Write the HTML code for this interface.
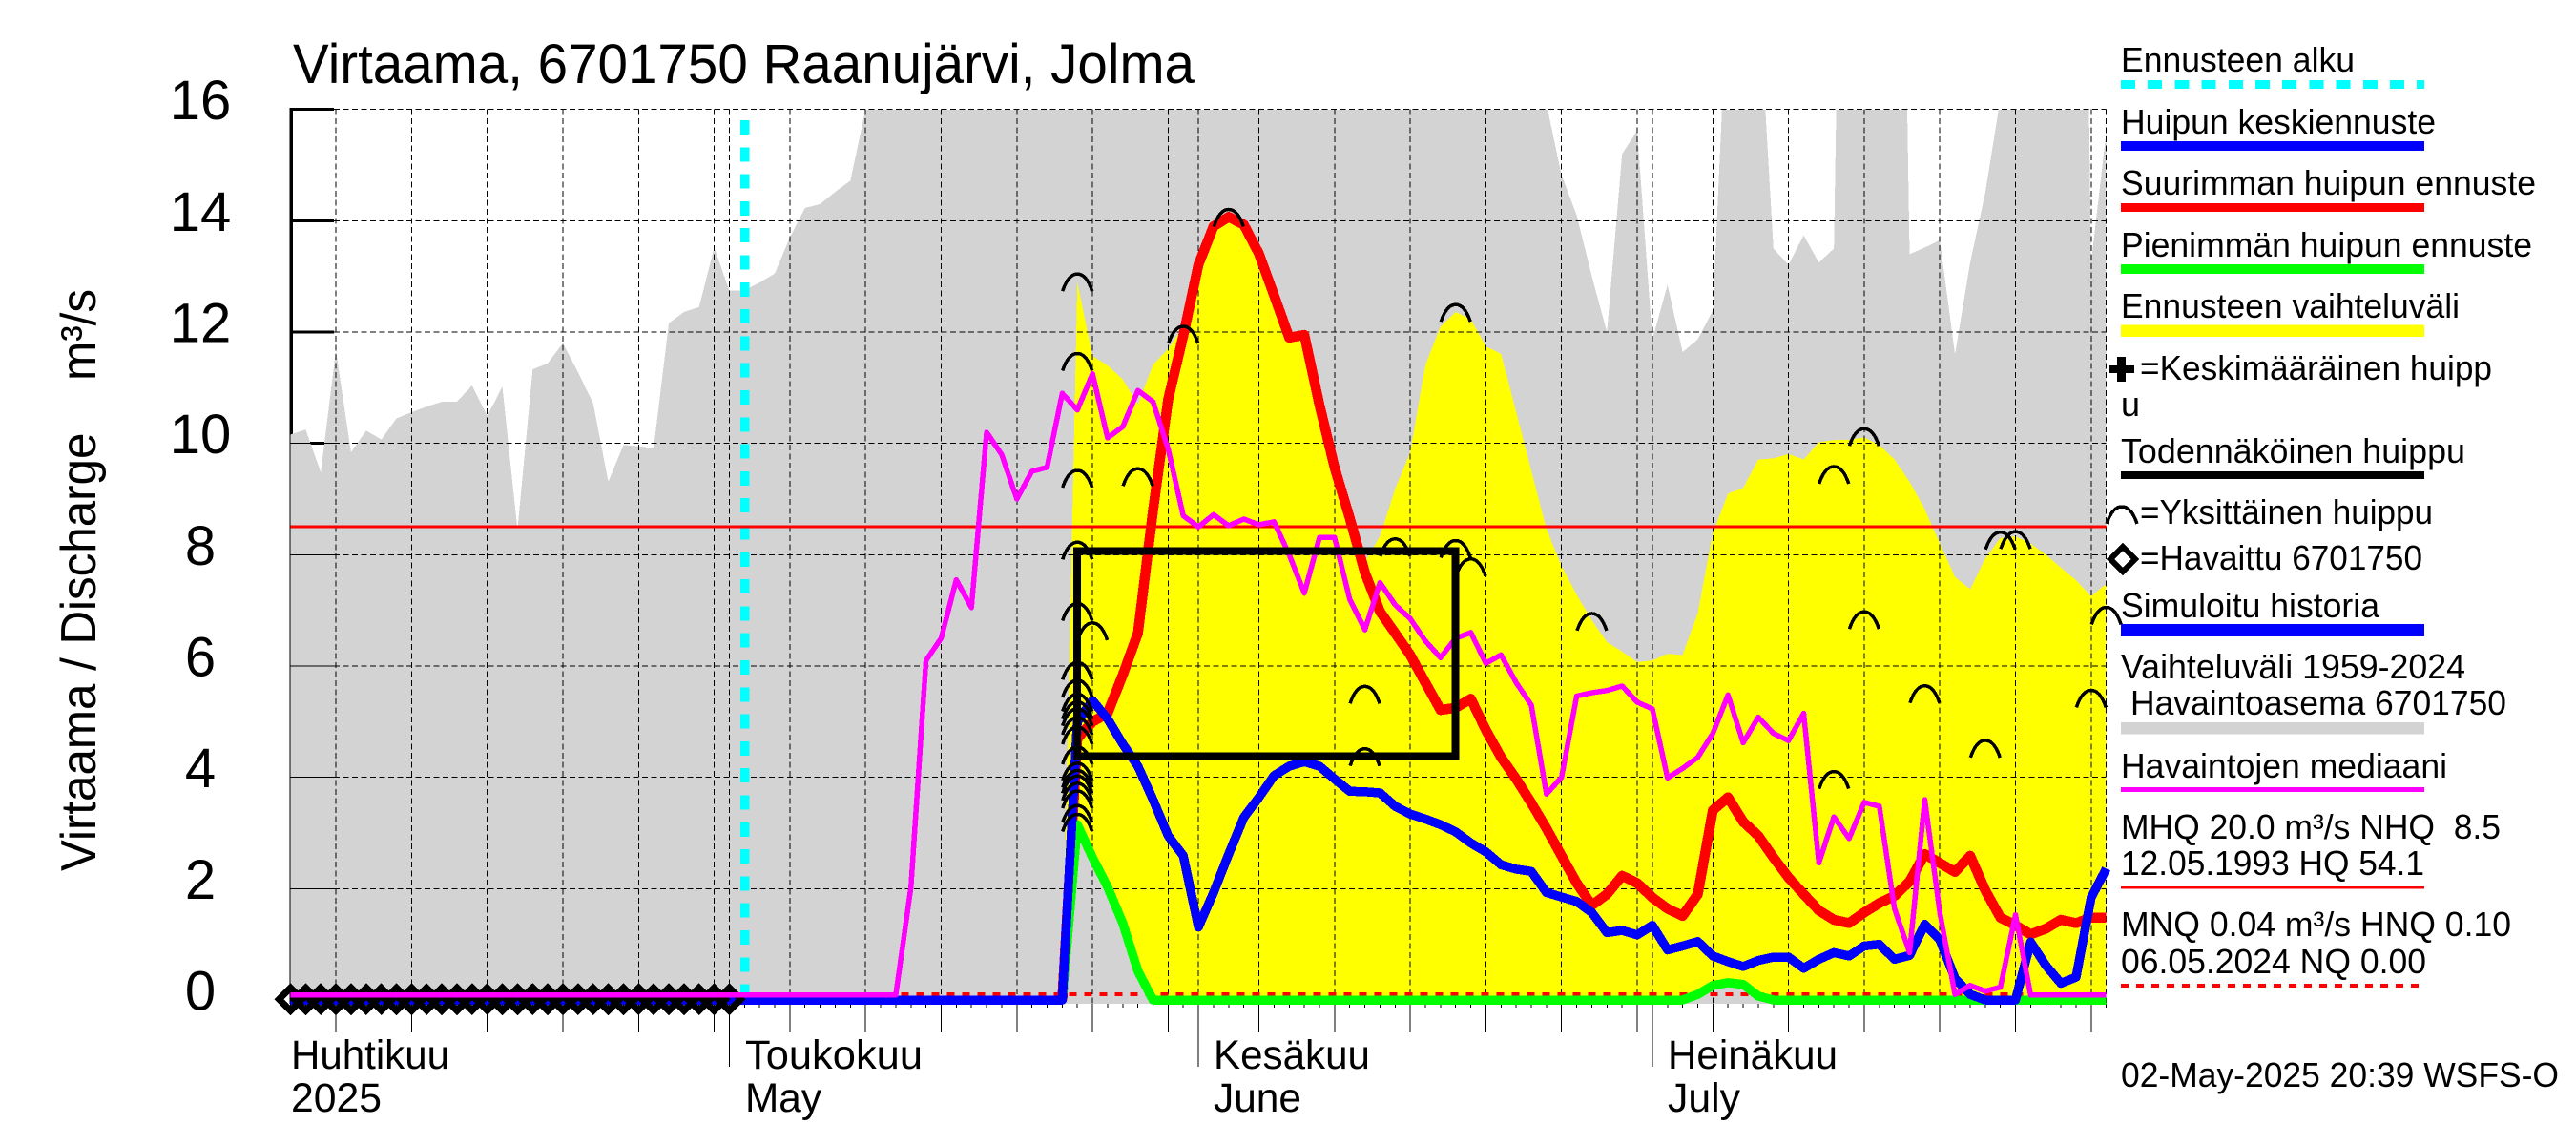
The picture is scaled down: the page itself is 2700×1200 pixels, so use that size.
<!DOCTYPE html>
<html lang="fi">
<head>
<meta charset="utf-8">
<title>Virtaama, 6701750 Raanujärvi, Jolma</title>
<style>
html,body{margin:0;padding:0;background:#fff;width:2700px;height:1200px;overflow:hidden}
svg{display:block}
text{font-family:"Liberation Sans","DejaVu Sans",sans-serif;fill:#000;white-space:pre}
.lg{font-size:36px}
.tick{font-size:58px;text-anchor:middle}
.xl{font-size:43px}
</style>
</head>
<body>
<svg id="chart" xmlns="http://www.w3.org/2000/svg" width="2700" height="1200" viewBox="0 0 2700 1200" shape-rendering="crispEdges">
  <defs>
    <clipPath id="plot-clip"><rect x="303" y="115" width="1906" height="937"/></clipPath>
  </defs>
  <rect x="0" y="0" width="2700" height="1200" fill="#fff"/>
  <g id="under-axis"></g>
  <g id="areas" clip-path="url(#plot-clip)"></g>
  <g id="grid"></g>
  <g id="series"></g>
  <g id="peaks"></g>

  <text x="307" y="87" font-size="58" textLength="945" lengthAdjust="spacingAndGlyphs">Virtaama, 6701750 Raanujärvi, Jolma</text>
  <text transform="translate(100,913) rotate(-90)" font-size="52" textLength="610" lengthAdjust="spacingAndGlyphs">Virtaama / Discharge    m³/s</text>

  <g id="y-labels"></g>

  <text class="xl" x="305" y="1120" textLength="166" lengthAdjust="spacingAndGlyphs">Huhtikuu</text>
  <text class="xl" x="305" y="1165" textLength="95" lengthAdjust="spacingAndGlyphs">2025</text>
  <text class="xl" x="781" y="1120" textLength="186" lengthAdjust="spacingAndGlyphs">Toukokuu</text>
  <text class="xl" x="781" y="1165" textLength="80" lengthAdjust="spacingAndGlyphs">May</text>
  <text class="xl" x="1272" y="1120" textLength="164" lengthAdjust="spacingAndGlyphs">Kesäkuu</text>
  <text class="xl" x="1272" y="1165" textLength="92" lengthAdjust="spacingAndGlyphs">June</text>
  <text class="xl" x="1748" y="1120" textLength="178" lengthAdjust="spacingAndGlyphs">Heinäkuu</text>
  <text class="xl" x="1748" y="1165" textLength="76" lengthAdjust="spacingAndGlyphs">July</text>

  <g id="legend">
    <text class="lg" x="2223" y="75" textLength="245" lengthAdjust="spacingAndGlyphs">Ennusteen alku</text>
    <line x1="2223" y1="88.5" x2="2541" y2="88.5" stroke="#00ffff" stroke-width="9" stroke-dasharray="15 13.2"/>
    <text class="lg" x="2223" y="140" textLength="330" lengthAdjust="spacingAndGlyphs">Huipun keskiennuste</text>
    <rect x="2223" y="148" width="318" height="10" fill="#0000ff"/>
    <text class="lg" x="2223" y="204" textLength="435" lengthAdjust="spacingAndGlyphs">Suurimman huipun ennuste</text>
    <rect x="2223" y="213" width="318" height="9" fill="#ff0000"/>
    <text class="lg" x="2223" y="269" textLength="431" lengthAdjust="spacingAndGlyphs">Pienimmän huipun ennuste</text>
    <rect x="2223" y="277" width="318" height="10" fill="#00ff00"/>
    <text class="lg" x="2223" y="333" textLength="355" lengthAdjust="spacingAndGlyphs">Ennusteen vaihteluväli</text>
    <rect x="2223" y="340.5" width="318" height="12.5" fill="#ffff00"/>
    <g>
      <rect x="2210" y="383" width="27" height="8" fill="#000"/>
      <rect x="2219" y="374" width="9" height="26" fill="#000"/>
    </g>
    <text class="lg" x="2243" y="398" textLength="369" lengthAdjust="spacingAndGlyphs">=Keskimääräinen huipp</text>
    <text class="lg" x="2223" y="436" textLength="20" lengthAdjust="spacingAndGlyphs">u</text>
    <text class="lg" x="2223" y="485" textLength="361" lengthAdjust="spacingAndGlyphs">Todennäköinen huippu</text>
    <rect x="2223" y="494" width="318" height="8" fill="#000"/>
    <path d="M2208,549 C2212,537 2217,531 2224,531 C2231,531 2236,537 2240,549" fill="none" stroke="#000" stroke-width="3.5"/>
    <text class="lg" x="2243" y="549" textLength="307" lengthAdjust="spacingAndGlyphs">=Yksittäinen huippu</text>
    <polygon points="2225,573 2238,586 2225,599 2212,586" fill="#fff" stroke="#000" stroke-width="6"/>
    <text class="lg" x="2243" y="597" textLength="296" lengthAdjust="spacingAndGlyphs">=Havaittu 6701750</text>
    <text class="lg" x="2223" y="647" textLength="271" lengthAdjust="spacingAndGlyphs">Simuloitu historia</text>
    <rect x="2223" y="654" width="318" height="13" fill="#0000ff"/>
    <text class="lg" x="2223" y="711" textLength="361" lengthAdjust="spacingAndGlyphs">Vaihteluväli 1959-2024</text>
    <text class="lg" x="2233" y="749" textLength="394" lengthAdjust="spacingAndGlyphs">Havaintoasema 6701750</text>
    <rect x="2223" y="757" width="318" height="12.5" fill="#d3d3d3"/>
    <text class="lg" x="2223" y="815" textLength="342" lengthAdjust="spacingAndGlyphs">Havaintojen mediaani</text>
    <rect x="2223" y="825" width="318" height="5" fill="#ff00ff"/>
    <text class="lg" x="2223" y="879" textLength="398" lengthAdjust="spacingAndGlyphs">MHQ 20.0 m³/s NHQ  8.5</text>
    <text class="lg" x="2223" y="917" textLength="318" lengthAdjust="spacingAndGlyphs">12.05.1993 HQ 54.1</text>
    <rect x="2223" y="929" width="318" height="2.5" fill="#ff0000"/>
    <text class="lg" x="2223" y="981" textLength="409" lengthAdjust="spacingAndGlyphs">MNQ 0.04 m³/s HNQ 0.10</text>
    <text class="lg" x="2223" y="1020" textLength="320" lengthAdjust="spacingAndGlyphs">06.05.2024 NQ 0.00</text>
    <line x1="2223" y1="1033" x2="2541" y2="1033" stroke="#ff0000" stroke-width="4" stroke-dasharray="8 8"/>
  </g>
  <text class="lg" x="2223" y="1139" textLength="459" lengthAdjust="spacingAndGlyphs">02-May-2025 20:39 WSFS-O</text>
</svg>

<script>
// ----- chart data (day index 0 = 2 April 2025, daily steps, m3/s) -----
const yTickValues = [0, 2, 4, 6, 8, 10, 12, 14, 16];
const gridDays = [3, 8, 13, 18, 23, 28, 29, 33, 38, 43, 48, 53, 58, 60, 64, 69, 74, 79, 84, 89, 90, 94, 99, 104, 109, 114, 119, 120];
const monthDays = [29, 60, 90];
const dayCount = 121;
const forecastStartDay = 30;
const nhqValue = 8.5;
const hnqValue = 0.1;
const forecastFirstDay = 51;

const historicHigh = [
  10.16, 10.25, 9.48, 11.67, 9.84, 10.23, 10.07, 10.45, 10.56, 10.66,
  10.75, 10.75, 11.04, 10.49, 11.02, 8.45, 11.33, 11.44, 11.8, 11.28,
  10.72, 9.31, 9.97, 9.95, 9.91, 12.16, 12.36, 12.45, 13.52, 12.75,
  12.75, 12.89, 13.05, 13.7, 14.23, 14.3, 14.52, 14.72, 16.0, 19,
  20, 21, 22, 22, 23, 24, 24, 23, 22, 21,
  22, 23, 24, 25, 26, 26, 25, 24, 23, 22,
  23, 24, 25, 24, 23, 22, 21, 20, 20, 21,
  22, 22, 21, 20, 20, 19, 19, 20, 20, 19,
  19, 18, 18, 16.1, 14.82, 14.1, 13.0, 12.0, 15.2, 15.62,
  11.87, 12.85, 11.64, 11.87, 12.39, 18.4, 18, 18.2, 13.5, 13.21,
  13.74, 13.25, 13.5, 30, 24, 24, 30, 13.4, 13.52, 13.65,
  11.6, 13.25, 14.5, 16.2, 18, 19, 19, 20, 32, 13.25,
  15.6
];

const medianValues = [
  0.09, 0.09, 0.09, 0.09, 0.09, 0.09, 0.09, 0.09, 0.09, 0.09,
  0.09, 0.09, 0.09, 0.09, 0.09, 0.09, 0.09, 0.09, 0.09, 0.09,
  0.09, 0.09, 0.09, 0.09, 0.09, 0.09, 0.09, 0.09, 0.09, 0.09,
  0.09, 0.09, 0.09, 0.09, 0.09, 0.09, 0.09, 0.09, 0.09, 0.09,
  0.09, 2.03, 6.1, 6.5, 7.55, 7.05, 10.2, 9.8, 9.0, 9.5,
  9.57, 10.9, 10.6, 11.25, 10.1, 10.3, 10.95, 10.75, 9.9, 8.7,
  8.5, 8.72, 8.52, 8.64, 8.54, 8.59, 8.0, 7.31, 8.31, 8.31,
  7.2, 6.65, 7.5, 7.1, 6.85, 6.45, 6.15, 6.5, 6.6, 6.05,
  6.2, 5.7, 5.3, 3.7, 4.0, 5.46, 5.52, 5.56, 5.64, 5.35,
  5.23, 3.99, 4.16, 4.36, 4.79, 5.48, 4.62, 5.08, 4.79, 4.66,
  5.15, 2.46, 3.29, 2.9, 3.55, 3.48, 1.64, 0.85, 3.6, 1.57,
  0.1, 0.26, 0.16, 0.23, 1.53, 0.09, 0.09, 0.09, 0.09, 0.09,
  0.09
];

const simulatedValues = [
  0, 0, 0, 0, 0, 0, 0, 0, 0, 0,
  0, 0, 0, 0, 0, 0, 0, 0, 0, 0,
  0, 0, 0, 0, 0, 0, 0, 0, 0, 0,
  0, 0, 0, 0, 0, 0, 0, 0, 0, 0,
  0, 0, 0, 0, 0, 0, 0, 0, 0, 0,
  0, 0, 5.0, 5.38, 5.05, 4.6, 4.2, 3.6, 2.95, 2.59,
  1.31, 1.93, 2.62, 3.28, 3.64, 4.03, 4.2, 4.28, 4.2, 3.97,
  3.75, 3.74, 3.72, 3.48, 3.34, 3.25, 3.15, 3.02, 2.82, 2.66,
  2.43, 2.35, 2.31, 1.93, 1.85, 1.77, 1.57, 1.21, 1.25, 1.17,
  1.34, 0.9, 0.97, 1.05, 0.79, 0.69, 0.6, 0.71, 0.77, 0.77,
  0.57, 0.73, 0.85, 0.79, 0.97, 1.0, 0.73, 0.8, 1.36, 1.08,
  0.39, 0.1, 0, 0, 0, 1.04, 0.62, 0.3, 0.41, 1.84,
  2.36
];

// forecast series start at forecastFirstDay
const maxPeakValues = [
  0, 4.7, 5.0, 5.15, 5.84, 6.59, 8.79, 10.79, 11.93, 13.21,
  13.9, 14.07, 13.93, 13.41, 12.66, 11.9, 11.95, 10.69, 9.57, 8.66,
  7.68, 6.98, 6.59, 6.2, 5.7, 5.21, 5.25, 5.41, 4.85, 4.36,
  3.97, 3.54, 3.08, 2.59, 2.1, 1.7, 1.9, 2.23, 2.1, 1.84,
  1.64, 1.51, 1.9, 3.41, 3.64, 3.2, 2.95, 2.56, 2.2, 1.9,
  1.61, 1.44, 1.38, 1.57, 1.74, 1.87, 2.13, 2.62, 2.46, 2.3,
  2.59, 1.97, 1.48, 1.34, 1.18, 1.28, 1.44, 1.38, 1.48, 1.48
];

const minPeakValues = [
  0, 3.15, 2.56, 2.03, 1.38, 0.52, 0, 0, 0, 0,
  0, 0, 0, 0, 0, 0, 0, 0, 0, 0,
  0, 0, 0, 0, 0, 0, 0, 0, 0, 0,
  0, 0, 0, 0, 0, 0, 0, 0, 0, 0,
  0, 0, 0.1, 0.26, 0.31, 0.28, 0.07, 0, 0, 0,
  0, 0, 0, 0, 0, 0, 0, 0, 0, 0,
  0, 0, 0, 0, 0, 0, 0, 0, 0, 0
];

const forecastHigh = [
  0, 12.89, 11.57, 11.4, 11.15, 10.7, 11.41, 11.7, 12.1, 13.25,
  13.9, 14.03, 13.9, 13.41, 12.66, 11.9, 11.93, 10.69, 9.57, 8.66,
  7.87, 8.33, 9.18, 9.84, 11.41, 12.1, 12.36, 12.23, 11.74, 11.61,
  10.56, 9.51, 8.46, 7.8, 7.28, 6.82, 6.43, 6.26, 6.07, 6.1,
  6.22, 6.2, 6.95, 8.39, 9.1, 9.2, 9.71, 9.73, 9.81, 9.71,
  10.02, 10.06, 10.06, 10.11, 9.97, 9.71, 9.31, 8.82, 8.2, 7.6,
  7.38, 7.93, 8.3, 8.33, 8.2, 8.0, 7.77, 7.54, 7.25, 7.48
];

const probableDays = [52, 77];
const probableValues = [4.38, 8.07];

const peakDays = [
  52, 52, 52, 52, 56, 59, 62, 77, 73, 77, 78,
  52, 53, 52, 52, 52, 52, 52, 52, 52, 52, 52, 52, 52, 52, 52, 52, 52,
  71, 71, 86, 104, 102, 113, 114, 104, 120, 108, 119, 112, 102
];
const peakValues = [
  12.89, 11.46, 9.36, 8.07, 9.39, 11.95, 14.05, 12.34, 8.13, 8.1, 7.77,
  6.97, 6.62, 5.91, 5.59, 5.34, 5.2, 5.08, 4.92, 4.75, 4.39, 4.1, 3.97, 3.87, 3.74, 3.6, 3.34, 3.18,
  5.48, 4.36, 6.79, 10.11, 9.43, 8.25, 8.26, 6.82, 6.9, 5.49, 5.41, 4.51, 3.95
];

const observedDays = [
  0, 1, 2, 3, 4, 5, 6, 7, 8, 9,
  10, 11, 12, 13, 14, 15, 16, 17, 18, 19,
  20, 21, 22, 23, 24, 25, 26, 27, 28, 29
];
const observedValues = [
  0, 0, 0, 0, 0, 0, 0, 0, 0, 0,
  0, 0, 0, 0, 0, 0, 0, 0, 0, 0,
  0, 0, 0, 0, 0, 0, 0, 0, 0, 0
];

// ----- axis functions -----
const NS = 'http://www.w3.org/2000/svg';
function xAt(day) { return 304.5 + 15.86 * day; }
function yAt(value) { return 1048 - 58.33 * value; }
const plotBottom = 1052;

function make(tag, parentId) {
  const el = document.createElementNS(NS, tag);
  document.getElementById(parentId).appendChild(el);
  return el;
}
function linePoints(values, firstDay) {
  return values.map(function (v, i) { return xAt(firstDay + i).toFixed(1) + ',' + yAt(v).toFixed(1); }).join(' ');
}

// y axis (thick part sits under the grey area)
const axisLine = make('line', 'under-axis');


axisLine.setAttribute('x1', 305); axisLine.setAttribute('x2', 305);
axisLine.setAttribute('y1', yAt(16) - 1.5); axisLine.setAttribute('y2', plotBottom);
axisLine.setAttribute('stroke', '#000'); axisLine.setAttribute('stroke-width', 3.5);

yTickValues.forEach(function (v) {
  const t = make('line', 'under-axis');
  
  
  t.setAttribute('x1', 304); t.setAttribute('x2', 350);
  t.setAttribute('y1', yAt(v)); t.setAttribute('y2', yAt(v));
  t.setAttribute('stroke', '#000'); t.setAttribute('stroke-width', 3);

  const label = make('text', 'y-labels');
  
  
  label.setAttribute('class', 'tick');
  label.setAttribute('x', 210);
  label.setAttribute('y', yAt(v) + 10.5);
  label.textContent = String(v);
});

// grey historic range area
const greyArea = make('polygon', 'areas');


greyArea.setAttribute('fill', '#d3d3d3');
greyArea.setAttribute('points', xAt(0) + ',' + plotBottom + ' ' + linePoints(historicHigh, 0) + ' ' + xAt(dayCount - 1) + ',' + plotBottom);

// yellow forecast range area (upper edge, then back along the lowest forecast)
const yellowArea = make('polygon', 'areas');


yellowArea.setAttribute('fill', '#ffff00');
const yellowLower = minPeakValues.map(function (v, i) { return xAt(forecastFirstDay + i).toFixed(1) + ',' + yAt(v).toFixed(1); }).reverse().join(' ');
yellowArea.setAttribute('points', linePoints(forecastHigh, forecastFirstDay) + ' ' + yellowLower);

// horizontal grid lines and short solid tick overlays
yTickValues.forEach(function (v) {
  if (v === 0) { return; }
  const g = make('line', 'grid');
  
  
  g.setAttribute('x1', 350); g.setAttribute('x2', xAt(120));
  g.setAttribute('y1', yAt(v)); g.setAttribute('y2', yAt(v));
  g.setAttribute('stroke', '#000'); g.setAttribute('stroke-width', 1);
  g.setAttribute('stroke-dasharray', '6 3.5');

  const s = make('line', 'grid');
  
  
  s.setAttribute('x1', 304); s.setAttribute('x2', 350);
  s.setAttribute('y1', yAt(v)); s.setAttribute('y2', yAt(v));
  s.setAttribute('stroke', '#000'); s.setAttribute('stroke-width', 1);
});

// vertical grid lines and 5-day ticks
gridDays.forEach(function (d) {
  const g = make('line', 'grid');
  
  
  g.setAttribute('x1', xAt(d)); g.setAttribute('x2', xAt(d));
  g.setAttribute('y1', yAt(16)); g.setAttribute('y2', plotBottom);
  g.setAttribute('stroke', '#000'); g.setAttribute('stroke-width', 1);
  g.setAttribute('stroke-dasharray', '6 3.5');

  if (d !== 120) {
    const isMonth = monthDays.indexOf(d) >= 0;
    const t = make('line', 'grid');
    
    
    t.setAttribute('x1', xAt(d)); t.setAttribute('x2', xAt(d));
    t.setAttribute('y1', plotBottom); t.setAttribute('y2', isMonth ? 1118 : 1082);
    t.setAttribute('stroke', '#000'); t.setAttribute('stroke-width', 1);
  }
});

// daily minor ticks
for (let d = 0; d < dayCount; d++) {
  const m = make('line', 'grid');
  
  
  m.setAttribute('x1', xAt(d)); m.setAttribute('x2', xAt(d));
  m.setAttribute('y1', plotBottom); m.setAttribute('y2', 1056);
  m.setAttribute('stroke', '#000'); m.setAttribute('stroke-width', 1);
}

// thin solid left line
const leftLine = make('line', 'grid');


leftLine.setAttribute('x1', 303.8); leftLine.setAttribute('x2', 303.8);
leftLine.setAttribute('y1', yAt(16)); leftLine.setAttribute('y2', plotBottom);
leftLine.setAttribute('stroke', '#000'); leftLine.setAttribute('stroke-width', 1);

// forecast start marker
const cyan = make('line', 'series');


cyan.setAttribute('x1', xAt(forecastStartDay) + 0.5); cyan.setAttribute('x2', xAt(forecastStartDay) + 0.5);
cyan.setAttribute('y1', 126); cyan.setAttribute('y2', 1040);
cyan.setAttribute('stroke', '#00ffff'); cyan.setAttribute('stroke-width', 9.5);
cyan.setAttribute('stroke-dasharray', '15 13.3');

// NHQ reference line
const nhq = make('line', 'series');


nhq.setAttribute('x1', xAt(0)); nhq.setAttribute('x2', xAt(120));
nhq.setAttribute('y1', yAt(nhqValue)); nhq.setAttribute('y2', yAt(nhqValue));
nhq.setAttribute('stroke', '#ff0000'); nhq.setAttribute('stroke-width', 3);

// HNQ dotted line
const hnq = make('line', 'series');


hnq.setAttribute('x1', xAt(0)); hnq.setAttribute('x2', xAt(120));
hnq.setAttribute('y1', yAt(hnqValue)); hnq.setAttribute('y2', yAt(hnqValue));
hnq.setAttribute('stroke', '#ff0000'); hnq.setAttribute('stroke-width', 4);
hnq.setAttribute('stroke-dasharray', '8 8');

function seriesLine(el, values, firstDay, color, width) {
  el.setAttribute('points', linePoints(values, firstDay));
  el.setAttribute('fill', 'none');
  el.setAttribute('stroke', color);
  el.setAttribute('stroke-width', width);
  el.setAttribute('stroke-linejoin', 'round');
}

const maxLine = make('polyline', 'series');


seriesLine(maxLine, maxPeakValues, forecastFirstDay, '#ff0000', 10.5);

const minLine = make('polyline', 'series');


seriesLine(minLine, minPeakValues, forecastFirstDay, '#00ff00', 9.5);

const simLine = make('polyline', 'series');


seriesLine(simLine, simulatedValues, 0, '#0000ff', 9.5);

// observed diamonds
observedDays.forEach(function (d, i) {
  const cx = xAt(d);
  const cy = yAt(observedValues[i]) - 0.8;
  const dm = make('polygon', 'series');
  
  
  dm.setAttribute('points', (cx - 12) + ',' + cy + ' ' + cx + ',' + (cy - 12) + ' ' + (cx + 12) + ',' + cy + ' ' + cx + ',' + (cy + 12));
  dm.setAttribute('fill', 'none');
  dm.setAttribute('stroke', '#000');
  dm.setAttribute('stroke-width', 7);
});

const medLine = make('polyline', 'series');


seriesLine(medLine, medianValues, 0, '#ff00ff', 5.5);

// probable peak box
const box = make('rect', 'series');


box.setAttribute('x', xAt(probableDays[0]));
box.setAttribute('y', yAt(probableValues[1]));
box.setAttribute('width', xAt(probableDays[1]) - xAt(probableDays[0]));
box.setAttribute('height', yAt(probableValues[0]) - yAt(probableValues[1]));
box.setAttribute('fill', 'none');
box.setAttribute('stroke', '#000');
box.setAttribute('stroke-width', 8);

// single peak symbols
peakDays.forEach(function (d, i) {
  const px = xAt(d);
  const py = yAt(peakValues[i]);
  const p = make('path', 'peaks');
  
  
  p.setAttribute('d', 'M' + (px - 15.5) + ',' + (py + 9) + ' C' + (px - 11.5) + ',' + (py - 3) + ' ' + (px - 6) + ',' + (py - 9) + ' ' + px + ',' + (py - 9) + ' C' + (px + 6) + ',' + (py - 9) + ' ' + (px + 11.5) + ',' + (py - 3) + ' ' + (px + 15.5) + ',' + (py + 9));
  p.setAttribute('fill', 'none');
  p.setAttribute('stroke', '#000');
  p.setAttribute('stroke-width', 3.5);
});
</script>
</body>
</html>
